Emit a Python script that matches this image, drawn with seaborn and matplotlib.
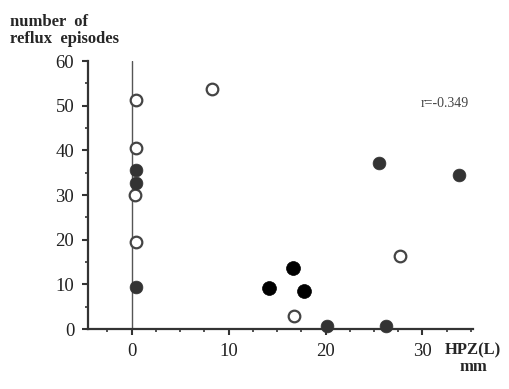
import numpy as np
import pandas as pd
import seaborn as sns
import matplotlib.pyplot as plt
from matplotlib.ticker import MultipleLocator

# values
open_x = [0.4, 0.4, 0.3, 0.4, 8.3, 16.7, 27.7]
open_y = [51.2, 40.5, 30.0, 19.5, 53.7, 3.0, 16.3]
grey_x = [0.4, 0.4, 0.4, 25.5, 33.8, 20.2, 26.2]
grey_y = [35.6, 32.8, 9.5, 37.1, 34.6, 0.7, 0.7]
black_x = [14.2, 16.6, 17.8]
black_y = [9.2, 13.7, 8.6]
r_label = "r=-0.349"

df = pd.concat([
    pd.DataFrame({"x": open_x, "y": open_y, "grp": "open"}),
    pd.DataFrame({"x": grey_x, "y": grey_y, "grp": "grey"}),
    pd.DataFrame({"x": black_x, "y": black_y, "grp": "black"}),
], ignore_index=True)

sns.set_style("ticks")
plt.rcParams['font.family'] = ['Liberation Serif', 'DejaVu Serif']

fig = plt.figure(figsize=(5.09, 3.89), dpi=100)
ax = fig.add_axes([0.173, 0.154, 0.756, 0.689])

# vertical reference line at x=0
ax.plot([0, 0], [0, 60], color="#555555", lw=1.0, zorder=1)

styles = {
    "open": dict(facecolor="white", edgecolor="#444444", s=70, linewidth=1.6),
    "grey": dict(color="#333333", edgecolor="#333333", s=85, linewidth=0.5),
    "black": dict(color="black", edgecolor="black", s=100, linewidth=0.5),
}
for grp, kw in styles.items():
    sns.scatterplot(data=df[df.grp == grp], x="x", y="y", ax=ax, legend=False,
                    clip_on=False, zorder=3, **kw)

ax.set_xlim(-4.5, 35.2)
ax.set_ylim(0, 60)
ax.set_xticks([0, 10, 20, 30])
ax.set_yticks([0, 10, 20, 30, 40, 50, 60])
ax.xaxis.set_minor_locator(MultipleLocator(2.5))
ax.yaxis.set_minor_locator(MultipleLocator(5))
ax.tick_params(which="major", length=4, width=1.5, labelsize=13.5, pad=6, colors="#333333")
ax.tick_params(which="minor", length=2.5, width=1.2, color="#333333")
for lab in ax.get_xticklabels() + ax.get_yticklabels():
    lab.set_color("#222222")
sns.despine(ax=ax)
ax.spines["left"].set_linewidth(1.6)
ax.spines["bottom"].set_linewidth(1.6)
ax.spines["left"].set_color("#333333")
ax.spines["bottom"].set_color("#333333")
ax.set_xlabel("")
ax.set_ylabel("")

fig.text(0.02, 0.965, "number  of\nreflux  episodes", fontsize=12, fontweight="bold",
         va="top", ha="left", linespacing=1.1)
fig.text(0.985, 0.035, "HPZ(L)\nmm", fontsize=12, fontweight="bold",
         va="bottom", ha="right", multialignment="center", linespacing=1.1)
ax.text(32.3, 50.6, r_label, fontsize=10, color="#444444", ha="center", va="center")

fig.savefig("out.png", dpi=100)
